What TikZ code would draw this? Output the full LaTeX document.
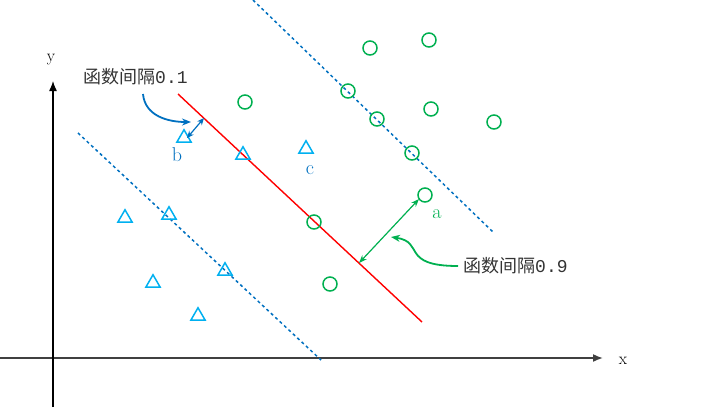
\documentclass[tikz,border=0pt]{standalone}
\usepackage{fontspec}
\newfontfamily\cjk{Noto Sans CJK SC}
\newfontfamily\monodig{Liberation Mono}
\usetikzlibrary{arrows.meta,shapes.geometric}
\definecolor{grn}{HTML}{00B050}
\definecolor{tri}{HTML}{00B0F0}
\definecolor{dsh}{HTML}{0070C0}
\definecolor{axc}{HTML}{404040}
\tikzset{
  posdot/.style={circle,draw=grn,line width=1.5pt,minimum size=14pt,inner sep=0pt},
  negtri/.style={regular polygon,regular polygon sides=3,draw=tri,line width=1.5pt,minimum size=16.5pt,inner sep=0pt},
  marginline/.style={draw=dsh,line width=1.5pt,dash pattern=on 3pt off 3pt},
  hyper/.style={draw=red,line width=1.4pt},
  axisline/.style={draw=axc,line width=1.6pt,-{Latex[length=10pt,width=8pt]}},
  lbl/.style={font=\fontsize{20pt}{22pt}\selectfont,inner sep=0pt},
  cjklbl/.style={font=\fontsize{18pt}{20pt}\selectfont\cjk,inner sep=0pt,text=black!80}
}
\begin{document}
\begin{tikzpicture}[x=1pt,y=-1pt]
\useasboundingbox (0,0) rectangle (708,408);
% axes
\coordinate (xs) at (0,358);
\coordinate (xe) at (603,358);
\coordinate (ys) at (53,407);
\coordinate (ye) at (53,81);
\draw[axisline] (xs) -- (xe);
\draw[axisline,draw=black,line width=1.3pt] (ys) -- (ye);
\node[lbl,font=\fontsize{17pt}{19pt}\selectfont] (xl) at (623,361) {x};
\node[lbl,font=\fontsize{17pt}{19pt}\selectfont] (yl) at (51,60) {y};
% margins and hyperplane
\coordinate (u1) at (253,0);
\coordinate (u2) at (493,232);
\coordinate (l1) at (78,133);
\coordinate (l2) at (321,360);
\coordinate (h1) at (178,94);
\coordinate (h2) at (422,322);
\draw[marginline] (u1) -- (u2);
\draw[marginline] (l1) -- (l2);
\draw[hyper] (h1) -- (h2);
% positive points
\node[posdot] (p1) at (370,48) {};
\node[posdot] (p2) at (429,40) {};
\node[posdot] (p3) at (245,102) {};
\node[posdot] (p4) at (348,91) {};
\node[posdot] (p5) at (377,119) {};
\node[posdot] (p6) at (431,109) {};
\node[posdot] (p7) at (494,122) {};
\node[posdot] (p8) at (412,153) {};
\node[posdot] (pa) at (425,195) {};
\node[posdot] (p9) at (314,222) {};
\node[posdot] (p10) at (330,284) {};
% negative points
\node[negtri] (n1) at (184,138) {};
\node[negtri] (n2) at (243,155) {};
\node[negtri] (n3) at (306,149) {};
\node[negtri] (n4) at (125,218) {};
\node[negtri] (n5) at (169,215) {};
\node[negtri] (n6) at (153,283) {};
\node[negtri] (n7) at (225,271) {};
\node[negtri] (n8) at (198,316) {};
% point labels
\node[lbl,text=grn] (la) at (437,214) {a};
\node[lbl,text=dsh] (lb) at (177,155) {b};
\node[lbl,text=dsh] (lc) at (310,170) {c};
% distance arrows
\coordinate (ga) at (419,199);
\coordinate (gb) at (359,263);
\draw[grn,line width=1.2pt,{Stealth[length=8pt,width=6pt]}-{Stealth[length=8pt,width=6pt]}] (gb) -- (ga);
\coordinate (ba) at (204,118);
\coordinate (bb) at (187,138);
\draw[dsh,line width=1.2pt,{Stealth[length=7pt,width=6pt]}-{Stealth[length=7pt,width=6pt]}] (bb) -- (ba);
% text labels
\node[cjklbl,anchor=west] (t1) at (83,77) {函数间隔{\monodig 0.1}};
\node[cjklbl,anchor=west] (t2) at (463,266) {函数间隔{\monodig 0.9}};
% curved callout arrows
\coordinate (c1s) at (143,94);
\coordinate (c1e) at (191,122);
\draw[dsh,line width=1.8pt,-{Stealth[length=9pt,width=7pt]}] (c1s) .. controls (145,116) and (168,122) .. (c1e);
\coordinate (c2s) at (458,266);
\coordinate (c2e) at (391,237);
\draw[grn,line width=1.8pt,-{Stealth[length=9pt,width=7pt]}] (c2s) .. controls (400,266) and (425,242) .. (c2e);
\end{tikzpicture}
\end{document}
